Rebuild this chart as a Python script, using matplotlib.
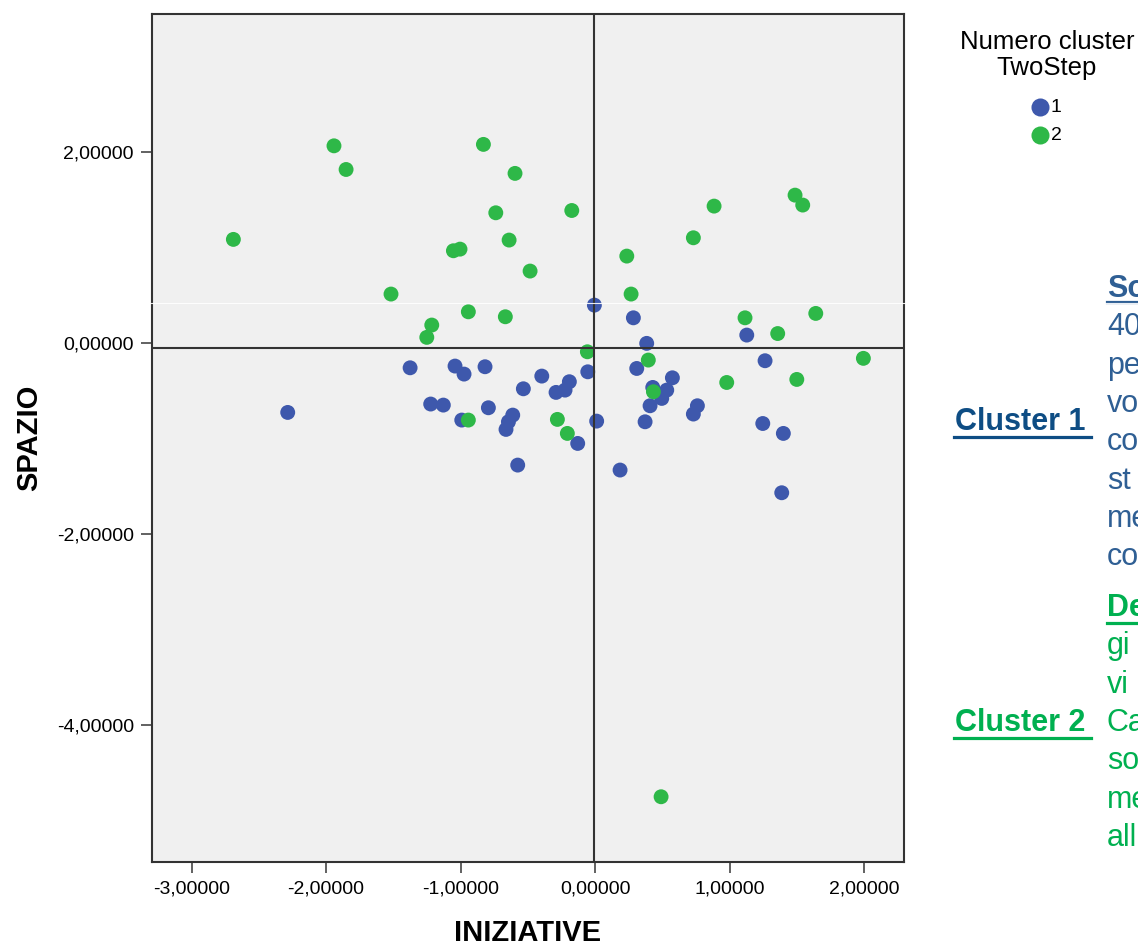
import matplotlib.pyplot as plt
from matplotlib.lines import Line2D
from matplotlib.ticker import FuncFormatter

# cluster 1 (blu) e cluster 2 (verde): punteggi INIZIATIVE / SPAZIO
iniziative_1 = [-0.005, 0.285, 0.384, 1.128, -1.375, -1.041, -0.974, -0.818, -0.396, -0.533,
                -0.191, -0.223, -0.290, -0.054, 0.310, 0.575, 0.533, 0.496, 0.409, 0.429,
                -1.222, -1.128, -0.793, -0.991, -0.612, -0.644, -0.662, 0.012, 0.372, 0.761,
                0.731, 1.264, 1.247, 1.400, 1.388, -0.129, -0.575, 0.186, -2.285]
spazio_1 = [0.398, 0.265, -0.003, 0.084, -0.259, -0.241, -0.325, -0.248, -0.346, -0.479,
            -0.405, -0.493, -0.517, -0.301, -0.266, -0.364, -0.493, -0.580, -0.657, -0.465,
            -0.639, -0.650, -0.678, -0.807, -0.755, -0.825, -0.905, -0.818, -0.825, -0.657,
            -0.744, -0.185, -0.843, -0.947, -1.569, -1.052, -1.279, -1.331, -0.727]

iniziative_2 = [-1.941, -1.851, -2.689, -0.830, -0.595, -0.738, -0.639, -1.053, -1.004, -0.483,
                -1.517, -0.942, -0.667, -1.214, -1.251, -0.173, 0.236, 0.731, 0.885, 1.487,
                1.544, 0.268, 1.115, 1.358, 1.641, -0.057, 0.396, 1.995, 0.979, 1.500,
                0.434, -0.942, -0.280, -0.206, 0.491]
spazio_2 = [2.068, 1.820, 1.087, 2.083, 1.779, 1.366, 1.080, 0.968, 0.985, 0.755,
            0.514, 0.328, 0.276, 0.189, 0.060, 1.390, 0.912, 1.104, 1.436, 1.551,
            1.447, 0.514, 0.265, 0.100, 0.311, -0.091, -0.178, -0.160, -0.413, -0.381,
            -0.510, -0.807, -0.800, -0.947, -4.756]

x_ticks = [-3, -2, -1, 0, 1, 2]
y_ticks = [2, 0, -2, -4]

cluster_labels = ['1', '2']
cluster_colors = ['#3E58AC', '#2EB848']

# colonna di testo a destra, tagliata dal bordo della slide
testo_1 = ["So", "40", "pe", "vo", "co", "st", "me", "co"]
testo_2 = ["De", "gi", "vi", "Ca", "so", "me", "all"]

plt.rcParams['font.family'] = 'Liberation Sans'

W, H = 1138, 949

fig = plt.figure(figsize=(W / 100, H / 100), dpi=100)
ax = fig.add_axes([152 / W, 1 - 862 / H, (904 - 152) / W, (862 - 14) / H])
ax.set_facecolor('#F0F0F0')

ax.scatter(iniziative_1, spazio_1, s=115, c=cluster_colors[0], edgecolors='none', zorder=2)
ax.scatter(iniziative_2, spazio_2, s=115, c=cluster_colors[1], edgecolors='none', zorder=2)

# linee di riferimento
ax.axvline(-0.007, color='#333333', lw=1.5, zorder=3)
ax.axhline(-0.05, color='#333333', lw=1.5, zorder=3)

ax.set_xlim(-3.294, 2.297)
ax.set_ylim(-5.44, 3.45)
ax.set_xticks(x_ticks)
ax.set_yticks(y_ticks)
fmt = FuncFormatter(lambda v, pos: f"{v:.5f}".replace('.', ','))
ax.xaxis.set_major_formatter(fmt)
ax.yaxis.set_major_formatter(fmt)
ax.tick_params(direction='out', length=8, width=1.3, color='#555555', labelsize=14, pad=5)
for sp in ax.spines.values():
    sp.set_color('#333333')
    sp.set_linewidth(1.5)

ax.set_xlabel('INIZIATIVE', fontsize=21, fontweight='bold', labelpad=16)
ax.set_ylabel('SPAZIO', fontsize=21, fontweight='bold', labelpad=10)


def fx(px):
    return px / W


def fy(py):
    return 1 - py / H


# legenda
fig.text(fx(1047), fy(42), 'Numero cluster', fontsize=18.5, ha='center', va='center')
fig.text(fx(1047), fy(68), 'TwoStep', fontsize=18.5, ha='center', va='center')
for i, (lab, col) in enumerate(zip(cluster_labels, cluster_colors)):
    yy = 107 + i * 28
    fig.add_artist(Line2D([fx(1040)], [fy(yy)], marker='o', markersize=13, color=col,
                          markeredgewidth=0, linestyle='none', transform=fig.transFigure))
    fig.text(fx(1051), fy(yy + 1), lab, fontsize=14, ha='left', va='center')

c1_dark, c1 = '#0E4D84', '#2F5F94'
c2 = '#00B050'

fig.text(fx(955), fy(422), 'Cluster 1', color=c1_dark, fontsize=22, fontweight='bold', va='center')
fig.text(fx(955), fy(723), 'Cluster 2', color=c2, fontsize=22, fontweight='bold', va='center')

for i, riga in enumerate(testo_1):
    fig.text(fx(1107), fy(289 + i * 38.3), riga, color=c1, fontsize=22,
             fontweight='bold' if i == 0 else 'normal', va='center')
for i, riga in enumerate(testo_2):
    fig.text(fx(1107), fy(608 + i * 38.3), riga, color=c2, fontsize=22,
             fontweight='bold' if i == 0 else 'normal', va='center')

# sottolineature
for x0, x1, y, col in [(954, 1091, 437, c1_dark), (954, 1091, 738, c2),
                       (1107, 1140, 302, c1), (1107, 1140, 623, c2)]:
    fig.add_artist(Line2D([fx(x0), fx(x1)], [fy(y), fy(y)], color=col, lw=2.3,
                          transform=fig.transFigure))

# sottile riga bianca della casella di testo
fig.add_artist(Line2D([fx(150), fx(1138)], [fy(302.5), fy(302.5)], color='white', lw=0.8,
                      alpha=0.9, transform=fig.transFigure, zorder=5))

fig.savefig('out.png', dpi=100)
